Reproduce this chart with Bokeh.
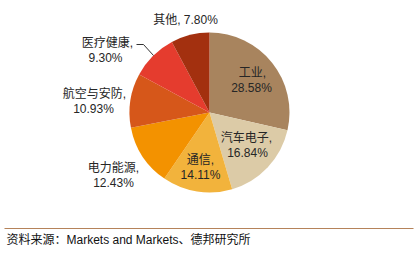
import math
from bokeh.plotting import figure
from bokeh.models import Range1d
from bokeh.core.properties import value
from bokeh.embed import file_html
from bokeh.resources import INLINE

categories = ["工业", "汽车电子", "通信", "电力能源", "航空与安防", "医疗健康", "其他"]
shares = [28.58, 16.84, 14.11, 12.43, 10.93, 9.30, 7.80]
share_labels = ["28.58%", "16.84%", "14.11%", "12.43%", "10.93%", "9.30%", "7.80%"]
colors = ["#A8845E", "#DCCBA7", "#F2B33C", "#F39200", "#D6571A", "#E53C2E", "#A3300F"]
source_text = "资料来源：Markets and Markets、德邦研究所"

W, H = 414, 266
p = figure(width=W, height=H, x_range=Range1d(0, W), y_range=Range1d(0, H),
           output_backend="svg", toolbar_location=None, min_border=0)
p.axis.visible = False
p.grid.visible = False
p.outline_line_color = None
p.background_fill_color = "white"

cx, cy, r = 209, H - 112, 80
total = sum(shares)
starts, ends = [], []
acc = 0.0
for s in shares:
    starts.append(math.pi / 2 - acc / total * 2 * math.pi)
    acc += s
    ends.append(math.pi / 2 - acc / total * 2 * math.pi)

p.wedge(x=[cx] * len(shares), y=[cy] * len(shares), radius=r,
        start_angle=starts, end_angle=ends, direction="clock",
        fill_color=colors, line_color=None)

font = value("'Liberation Sans', 'Noto Sans CJK SC', sans-serif")
fs = value("12px")
tc = "#262626"

# label positions (pixel, top-down) for name line and value line
name_pos = [(252, 72), (246, 137), (200, 159), (113, 167), (94, 93), (107, 42)]
val_pos = [(251, 87), (247, 152), (200, 174), (113, 182), (93, 108), (105, 57)]
for i in range(6):
    nx, ny = name_pos[i]
    vx, vy = val_pos[i]
    p.text(x=[nx], y=[H - ny], text=[categories[i] + ","], text_font=font,
           text_font_size=fs, text_color=tc, text_align="center", text_baseline="middle")
    p.text(x=[vx], y=[H - vy], text=[share_labels[i]], text_font=font,
           text_font_size=fs, text_color=tc, text_align="center", text_baseline="middle")

p.text(x=[185], y=[H - 19], text=[categories[6] + ", " + share_labels[6]], text_font=font,
       text_font_size=fs, text_color=tc, text_align="center", text_baseline="middle")

# leader line for 医疗健康
p.line(x=[136, 143, 153], y=[H - 44, H - 44, H - 55], line_color="#333333", line_width=1)

# separator and source
p.line(x=[4, 413], y=[H - 228, H - 228], line_color="#B5835A", line_width=1.2)
p.text(x=[6], y=[H - 239], text=[source_text], text_font=font,
       text_font_size=value("12px"), text_color="#111111", text_align="left", text_baseline="middle")

open("out.html", "w").write(file_html(p, INLINE))
